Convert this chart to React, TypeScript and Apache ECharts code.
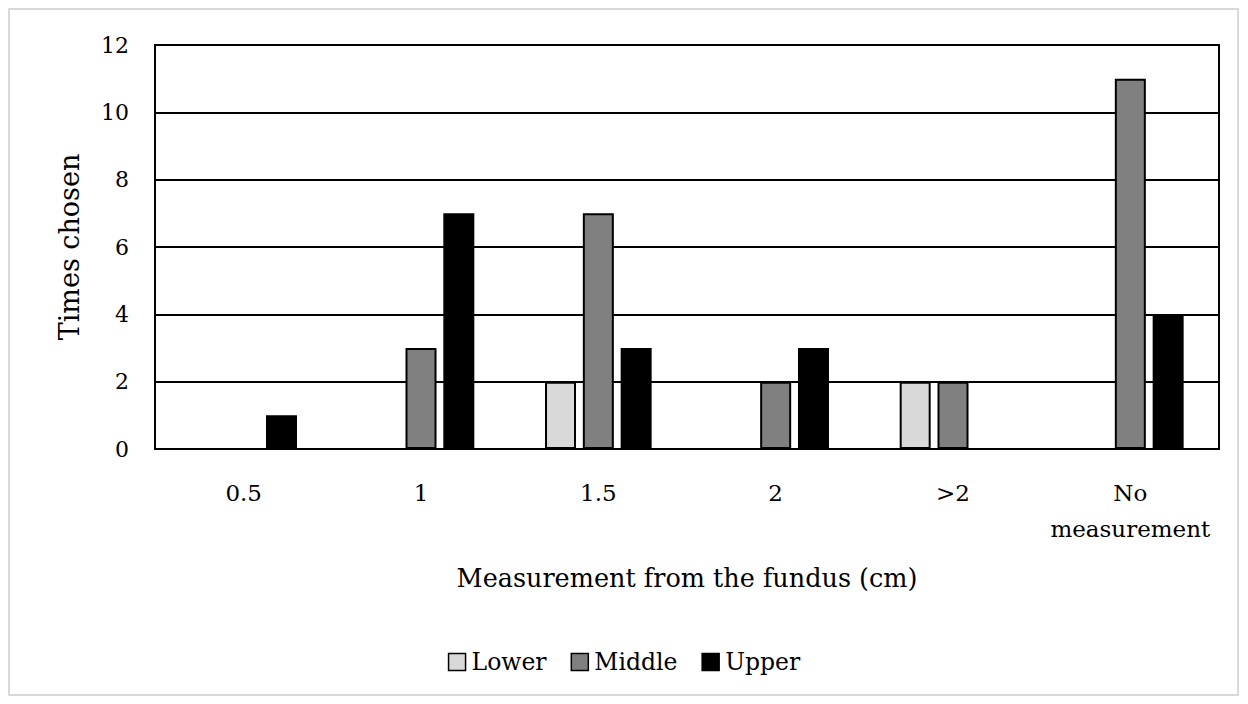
import React, { useEffect, useRef } from "react";
import * as echarts from "echarts";

const categories = ["0.5", "1", "1.5", "2", ">2", "No\nmeasurement"];
const lowerValues = [0, 0, 2, 0, 2, 0];
const middleValues = [0, 3, 7, 2, 2, 11];
const upperValues = [1, 7, 3, 3, 0, 4];
const seriesNames = ["Lower", "Middle", "Upper"];
const seriesColors = ["#d9d9d9", "#808080", "#000000"];

const FONT = "DejaVu Serif";

export default function App() {
  const ref = useRef<HTMLDivElement>(null);
  useEffect(() => {
    if (!ref.current) return;
    const chart = echarts.init(ref.current, null, { renderer: "svg" });
    const values = [lowerValues, middleValues, upperValues];
    chart.setOption({
      animation: false,
      backgroundColor: "#ffffff",
      textStyle: { fontFamily: FONT, color: "#000" },
      graphic: [
        {
          type: "rect",
          shape: { x: 9, y: 9, width: 1229, height: 686 },
          style: { fill: "none", stroke: "#d9d9d9", lineWidth: 2 },
          silent: true,
        },
      ],
      grid: {
        left: 155,
        right: 29,
        top: 45,
        bottom: 255,
        show: true,
        borderColor: "#000",
        borderWidth: 2,
      },
      legend: {
        data: seriesNames,
        bottom: 25,
        left: "center",
        icon: "rect",
        itemWidth: 17,
        itemHeight: 17,
        itemGap: 24,
        textStyle: { fontFamily: FONT, fontSize: 23.5, color: "#000", padding: [0, 0, 0, 1] },
        itemStyle: { borderColor: "#000", borderWidth: 1.5 },
      },
      xAxis: {
        type: "category",
        data: categories,
        axisTick: { show: false },
        axisLine: { show: true, lineStyle: { color: "#000", width: 2 } },
        axisLabel: {
          fontFamily: FONT,
          fontSize: 23,
          color: "#000",
          margin: 26,
          lineHeight: 36,
          interval: 0,
        },
        name: "Measurement from the fundus (cm)",
        nameLocation: "middle",
        nameGap: 116,
        nameTextStyle: { fontFamily: FONT, fontSize: 25.5, color: "#000" },
      },
      yAxis: {
        type: "value",
        min: 0,
        max: 12,
        interval: 2,
        axisLine: { show: true, lineStyle: { color: "#000", width: 2 } },
        axisTick: { show: false },
        splitLine: { show: true, lineStyle: { color: "#000", width: 2 } },
        axisLabel: { fontFamily: FONT, fontSize: 22, color: "#000", margin: 26 },
        name: "Times chosen",
        nameLocation: "middle",
        nameGap: 72,
        nameTextStyle: { fontFamily: FONT, fontSize: 27, color: "#000" },
      },
      series: seriesNames.map((name, i) => ({
        name,
        type: "bar",
        data: values[i],
        barWidth: 31,
        barGap: "22%",
        itemStyle: { color: seriesColors[i], borderColor: "#000", borderWidth: 2 },
      })),
    });
    return () => chart.dispose();
  }, []);
  return (
    <div
      ref={ref}
      style={{ position: "absolute", left: 0, top: 0, width: 1248, height: 704 }}
    />
  );
}
